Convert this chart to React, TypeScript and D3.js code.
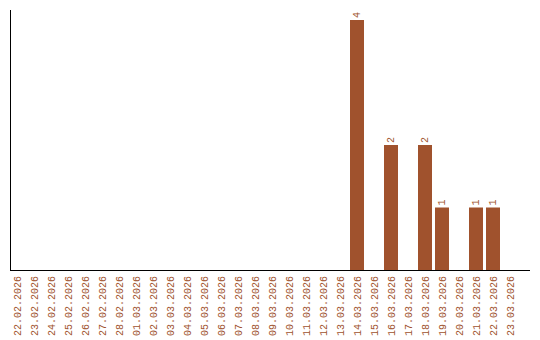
import React from "react";
import * as d3 from "d3";

const dates = [
  "22.02.2026","23.02.2026","24.02.2026","25.02.2026","26.02.2026","27.02.2026","28.02.2026",
  "01.03.2026","02.03.2026","03.03.2026","04.03.2026","05.03.2026","06.03.2026","07.03.2026",
  "08.03.2026","09.03.2026","10.03.2026","11.03.2026","12.03.2026","13.03.2026","14.03.2026",
  "15.03.2026","16.03.2026","17.03.2026","18.03.2026","19.03.2026","20.03.2026","21.03.2026",
  "22.03.2026","23.03.2026",
];
const values = [0,0,0,0,0,0,0,0,0,0,0,0,0,0,0,0,0,0,0,0,4,0,2,0,2,1,0,1,1,0];

const W = 540, H = 340;
const left = 10, bottom = 270, top = 20;
const color = "#a0522d";

export default function App() {
  const x = d3.scaleBand<string>().domain(dates).range([left, left + 17 * dates.length]).paddingInner(0).paddingOuter(0);
  const y = d3.scaleLinear().domain([0, d3.max(values) as number]).range([bottom, top]);
  const bw = 14;
  return (
    <svg width={W} height={H} style={{ position: "absolute", left: 0, top: 0 }}>
      <rect width={W} height={H} fill="#fff" />
      {dates.map((d, i) => {
        const v = values[i];
        const bx = x(d) as number;
        return (
          <g key={d}>
            {v > 0 && (
              <rect x={bx} y={y(v)} width={bw} height={bottom - y(v)} fill={color} />
            )}
            {v > 0 && (
              <text
                transform={`translate(${bx + bw / 2 + 3},${y(v) - 2}) rotate(-90)`}
                fontFamily="Liberation Mono"
                fontSize={10}
                fill={color}
              >
                {v}
              </text>
            )}
            <text
              transform={`translate(${bx + bw / 2 + 3.5},${bottom + 6}) rotate(-90)`}
              textAnchor="end"
              fontFamily="Liberation Mono"
              fontSize={10}
              fill={color}
            >
              {d}
            </text>
          </g>
        );
      })}
      <line x1={10.5} x2={10.5} y1={10} y2={bottom} stroke="#000" strokeWidth={1} />
      <line x1={10} x2={530} y1={bottom + 0.5} y2={bottom + 0.5} stroke="#000" strokeWidth={1} />
    </svg>
  );
}
